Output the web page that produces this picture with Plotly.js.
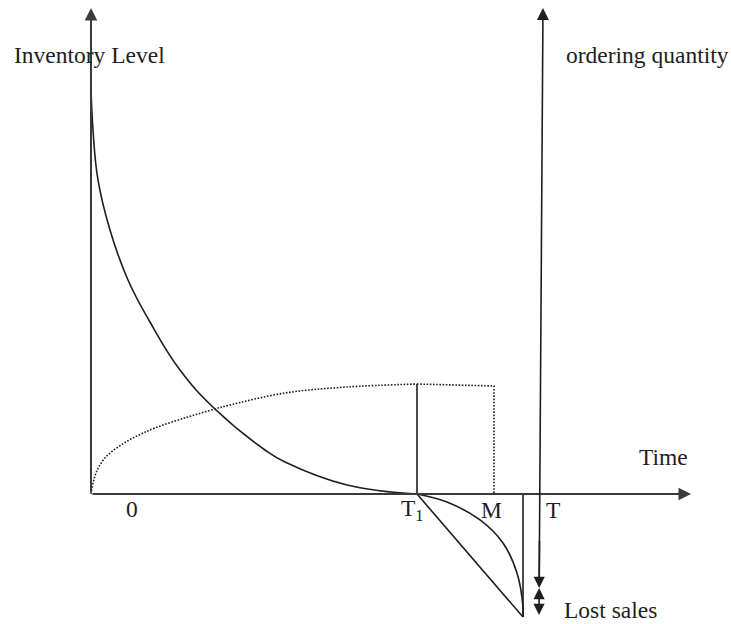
<!DOCTYPE html>
<html>
<head>
<meta charset="utf-8">
<script src="https://cdn.plot.ly/plotly-3.0.1.min.js"></script>
<style>html,body{margin:0;padding:0;background:#fff;}#chart{width:731px;height:624px;}</style>
</head>
<body>
<div id="chart"></div>
<script>
// Data units: time with T1 = 10, inventory with initial level I0 = 10
const invT = [0, 0.062, 0.215, 0.583, 1.135, 1.810, 2.730, 3.804, 5.337, 5.951, 7.853, 10];
const invLevel = [10, 8.966, 7.734, 6.502, 5.271, 4.236, 3.054, 2.094, 1.084, 0.788, 0.222, 0];

const orderT = [0, 0.153, 0.429, 0.920, 1.442, 1.963, 2.975, 3.804, 4.202, 5.951, 7.853, 10];
const orderQ = [0, 0.517, 0.887, 1.207, 1.441, 1.626, 1.897, 2.094, 2.180, 2.488, 2.635, 2.709];

const flatT = [10, 12.362, 12.362];
const flatQ = [2.709, 2.660, 0];

const T1 = 10, Tend = 13.252;
const shortT = [10, 10.920, 11.933, 12.638, 13.067, 13.252, 13.252];
const shortQ = [0, -0.197, -0.640, -1.207, -1.946, -2.783, -3.030];
const backlogMin = -3.030;
const T1Height = 2.709;

const axisTop = 11.970, axisRight = 18.405;
const orderLineTop = [13.865, 11.970], orderLineBottom = [13.742, -2.980];
const lostSalesMid = -2.315;

const labels = ["Inventory Level", "ordering quantity", "Time", "0", "T<sub>1</sub>", "M", "T", "Lost sales"];

const ink = '#1e1e1e';
const axisInk = '#3a3a3a';
const F = {family: 'Liberation Serif, Times New Roman, serif', size: 23.5, color: '#1e1e1e'};

const dots = '1.6px,1.6px';
const traces = [
  {x: invT, y: invLevel, mode: 'lines', line: {color: ink, width: 1.6, shape: 'spline', smoothing: 1.2}},
  {x: orderT, y: orderQ, mode: 'lines', line: {color: ink, width: 1.6, dash: dots, shape: 'spline', smoothing: 1.0}},
  {x: flatT, y: flatQ, mode: 'lines', line: {color: ink, width: 1.6, dash: dots}},
  {x: [T1, T1], y: [0, T1Height], mode: 'lines', line: {color: ink, width: 1.6}},
  {x: shortT, y: shortQ, mode: 'lines', line: {color: ink, width: 1.6, shape: 'spline', smoothing: 1.0}},
  {x: [T1, Tend], y: [0, backlogMin], mode: 'lines', line: {color: ink, width: 1.6}},
  {x: [Tend, Tend], y: [0, backlogMin], mode: 'lines', line: {color: ink, width: 1.6}}
];

function arrow(tipX, tipY, tailX, tailY, size, w, col) {
  return {x: tipX, y: tipY, ax: tailX, ay: tailY, xref: 'x', yref: 'y', axref: 'x', ayref: 'y',
    text: '', showarrow: true, arrowhead: 2, arrowsize: size, arrowwidth: w, arrowcolor: col, standoff: 0, startstandoff: 0};
}
function lineAt(t) { // point on ordering-quantity line at height t
  const f = (t - orderLineBottom[1]) / (orderLineTop[1] - orderLineBottom[1]);
  return orderLineBottom[0] + f * (orderLineTop[0] - orderLineBottom[0]);
}

function label(x, y, text, xa) {
  return {x: x, y: y, xref: 'x', yref: 'y', text: text, showarrow: false, xanchor: xa, yanchor: 'middle', font: F};
}

const annotations = [
  arrow(0, axisTop, 0, 0, 1.25, 2, axisInk),
  arrow(axisRight, 0, 0, 0, 1.25, 2, axisInk),
  arrow(orderLineTop[0], orderLineTop[1], lineAt(lostSalesMid), lostSalesMid, 1.5, 1.6, ink),
  arrow(lineAt(lostSalesMid), lostSalesMid, lineAt(lostSalesMid + 1.2), lostSalesMid + 1.2, 1.4, 1.6, ink),
  arrow(lineAt(lostSalesMid), lostSalesMid, lineAt(-2.62), -2.62, 1.4, 1.6, ink),
  arrow(orderLineBottom[0], orderLineBottom[1], lineAt(-2.45), -2.45, 1.4, 1.6, ink),
  label(-2.42, 10.82, labels[0], 'left'),
  label(19.63, 10.82, labels[1], 'right'),
  label(17.55, 0.91, labels[2], 'center'),
  label(1.26, -0.37, labels[3], 'center'),
  label(9.85, -0.40, labels[4], 'center'),
  label(12.30, -0.40, labels[5], 'center'),
  label(14.17, -0.40, labels[6], 'center'),
  label(14.45, -2.85, labels[7], 'left')
];

const layout = {
  width: 731, height: 624,
  margin: {l: 0, r: 0, t: 0, b: 0, pad: 0},
  paper_bgcolor: '#fff', plot_bgcolor: '#fff',
  showlegend: false,
  xaxis: {range: [-2.791, 19.632], visible: false, fixedrange: true},
  yaxis: {range: [-3.202, 12.167], visible: false, fixedrange: true},
  annotations: annotations
};

Plotly.newPlot('chart', traces, layout, {displayModeBar: false, staticPlot: true});
</script>
</body>
</html>
